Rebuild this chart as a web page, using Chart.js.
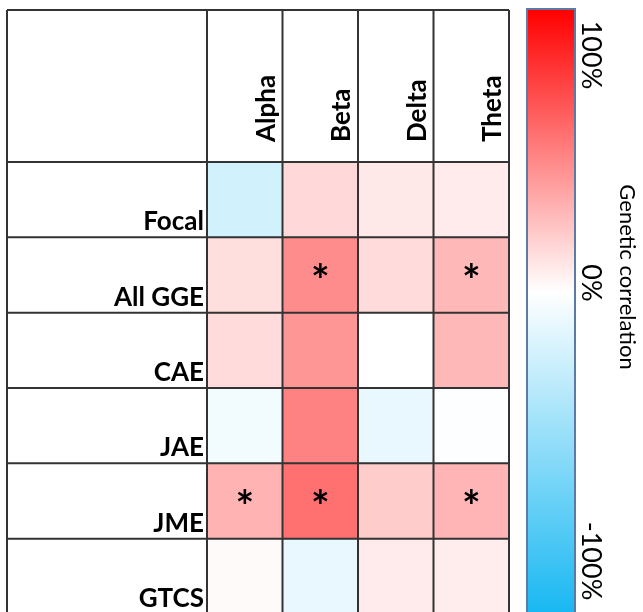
<!DOCTYPE html>
<html><head><meta charset="utf-8">
<script src="https://cdn.jsdelivr.net/npm/chart.js@4.4.0/dist/chart.umd.min.js"></script>
<style>html,body{margin:0;padding:0;background:#fff;overflow:hidden;width:643px;height:612px}#wrap{width:643px;height:620px;position:relative}</style>
</head><body><div id="wrap"><canvas id="c" width="643" height="620"></canvas></div>
<script>
const rowLabels = ["Focal", "All GGE", "CAE", "JAE", "JME", "GTCS"];
const colLabels = ["Alpha", "Beta", "Delta", "Theta"];
// genetic correlation per column, rows in order of rowLabels
const alphaVals = [-0.18, 0.13, 0.14, -0.05, 0.30, 0.02];
const betaVals  = [0.15, 0.45, 0.41, 0.49, 0.56, -0.09];
const deltaVals = [0.09, 0.14, 0.00, -0.09, 0.20, 0.08];
const thetaVals = [0.08, 0.28, 0.28, -0.01, 0.29, 0.07];
// significance markers (*)
const alphaSig = [0, 0, 0, 0, 1, 0];
const betaSig  = [0, 1, 0, 0, 1, 0];
const deltaSig = [0, 0, 0, 0, 0, 0];
const thetaSig = [0, 1, 0, 0, 1, 0];
const colorbarTicks = ["100%", "0%", "-100%"];
const colorbarTickVals = [1, 0, -1];
const colorbarTitle = "Genetic correlation";

const colVals = [alphaVals, betaVals, deltaVals, thetaVals];
const colSig = [alphaSig, betaSig, deltaSig, thetaSig];

function valColor(v) {
  if (v >= 0) {
    const g = Math.round(255 * (1 - v));
    return `rgb(255,${g},${g})`;
  }
  const a = -v;
  const r = Math.round(255 * (1 - a));
  const g = Math.round(255 - a * 79);
  const b = Math.round(255 - a * 15);
  return `rgb(${r},${g},${b})`;
}

const datasets = rowLabels.map((name, r) => ({
  label: name,
  data: colLabels.map(() => [r, r + 1]),
  backgroundColor: colLabels.map((c, ci) => valColor(colVals[ci][r])),
  borderWidth: 0,
  grouped: false,
  barPercentage: 1,
  categoryPercentage: 1
}));

const LINE = '#333333';
const tablePlugin = {
  id: 'table',
  afterDatasetsDraw(chart) {
    const ctx = chart.ctx;
    const xs = chart.scales.x, ys = chart.scales.y;
    const ca = chart.chartArea;
    const cw = ca.width / colLabels.length;
    const left = 7, top = 10;
    ctx.save();
    // grid lines
    ctx.strokeStyle = LINE;
    ctx.lineWidth = 2;
    ctx.beginPath();
    const xb = [left];
    for (let i = 0; i < colLabels.length; i++) xb.push(xs.getPixelForValue(i) - cw / 2);
    xb.push(xs.getPixelForValue(colLabels.length - 1) + cw / 2);
    xb.forEach(x => { ctx.moveTo(x, top); ctx.lineTo(x, 630); });
    const yb = [top];
    for (let r = 0; r <= rowLabels.length; r++) yb.push(ys.getPixelForValue(r));
    yb.forEach(y => { ctx.moveTo(left, y); ctx.lineTo(xb[xb.length - 1], y); });
    ctx.stroke();

    // column labels rotated
    ctx.fillStyle = '#000';
    ctx.font = 'bold 26px Lato';
    ctx.textBaseline = 'alphabetic';
    ctx.textAlign = 'left';
    colLabels.forEach((lab, i) => {
      const x = xs.getPixelForValue(i) + cw / 2 - 8;
      ctx.save();
      ctx.translate(x, ys.getPixelForValue(0) - 20);
      ctx.rotate(-Math.PI / 2);
      ctx.fillText(lab, 0, 0);
      ctx.restore();
    });
    // row labels
    ctx.textAlign = 'right';
    rowLabels.forEach((lab, r) => {
      ctx.fillText(lab, xb[1] - 3, ys.getPixelForValue(r + 1) - 7);
    });
    // asterisks
    ctx.textAlign = 'center';
    ctx.font = 'bold 44px Lato';
    colSig.forEach((arr, ci) => {
      arr.forEach((s, r) => {
        if (!s) return;
        const cx = xs.getPixelForValue(ci);
        const cy = ys.getPixelForValue(r + 0.5);
        ctx.fillText('*', cx, cy + 21);
      });
    });

    // colorbar
    const bx = 527, bw = 48, by = 9, bh = 620;
    const yTop = 10, yZero = 292, yBot = 612;
    const grad = ctx.createLinearGradient(0, yTop, 0, yBot);
    grad.addColorStop(0, valColor(1));
    grad.addColorStop((yZero - yTop) / (yBot - yTop), valColor(0));
    grad.addColorStop(1, valColor(-0.9));
    ctx.fillStyle = grad;
    ctx.fillRect(bx, by, bw, bh);
    ctx.strokeStyle = '#5b7ba6';
    ctx.lineWidth = 2;
    ctx.strokeRect(bx, by, bw, bh);

    // colorbar tick labels
    const tickY = { '1': 55, '0': 283, '-1': 561 };
    ctx.fillStyle = '#000';
    ctx.font = '27px Lato';
    ctx.textAlign = 'center';
    colorbarTicks.forEach((t, i) => {
      ctx.save();
      ctx.translate(582, tickY[String(colorbarTickVals[i])]);
      ctx.rotate(Math.PI / 2);
      ctx.fillText(t, 0, 0);
      ctx.restore();
    });
    ctx.save();
    ctx.translate(620, 277);
    ctx.rotate(Math.PI / 2);
    ctx.font = '22px Lato';
    ctx.fillText(colorbarTitle, 0, 0);
    ctx.restore();
    ctx.restore();
  }
};

new Chart(document.getElementById('c'), {
  type: 'bar',
  data: { labels: colLabels, datasets },
  options: {
    responsive: false,
    devicePixelRatio: 1,
    animation: false,
    layout: { padding: { left: 207, top: 162, right: 134, bottom: 6 } },
    plugins: { legend: { display: false }, tooltip: { enabled: false } },
    scales: {
      x: { type: 'category', labels: colLabels, display: false, offset: true },
      y: { type: 'linear', min: 0, max: 6, reverse: true, display: false }
    }
  },
  plugins: [tablePlugin]
});
</script>
</body></html>
